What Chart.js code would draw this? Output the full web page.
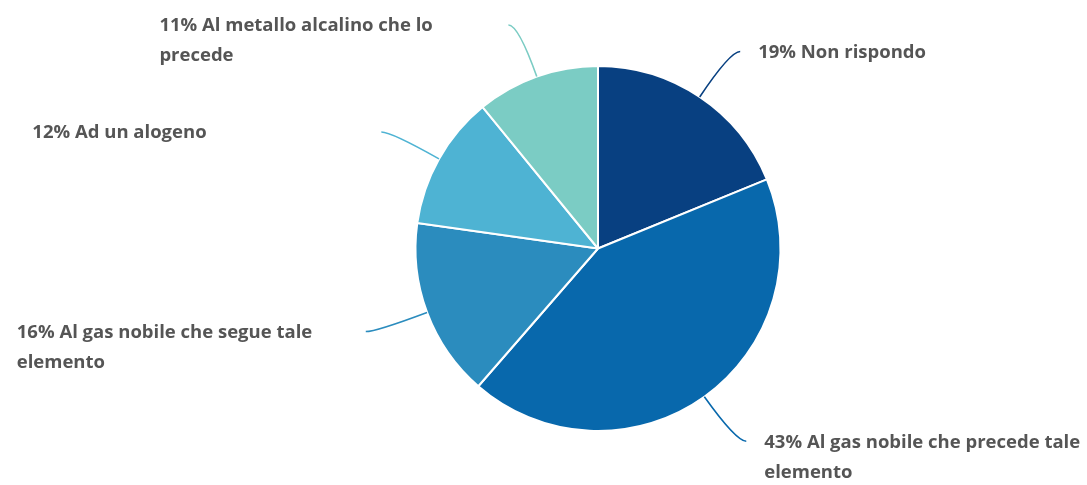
<!DOCTYPE html>
<html lang="it">
<head>
<meta charset="utf-8">
<title>Risposte</title>
<script src="https://cdn.jsdelivr.net/npm/chart.js@4"></script>
<style>
  html, body { margin: 0; padding: 0; background: #ffffff; }
  #wrap { position: relative; width: 1087px; height: 485px; }
</style>
</head>
<body>
<div id="wrap"><canvas id="chart"></canvas></div>
<script>
// Risposte (percentuali) e relative etichette
const categories = [
  "Non rispondo",
  "Al gas nobile che precede tale elemento",
  "Al gas nobile che segue tale elemento",
  "Ad un alogeno",
  "Al metallo alcalino che lo precede"
];
const percentages = [19, 43, 16, 12, 11];
const sliceColors = ["#084081", "#0868ac", "#2b8cbe", "#4eb3d3", "#7bccc4"];

const LABEL_FONT = "bold 18.5px 'Open Sans', 'Noto Sans', sans-serif";
const LABEL_COLOR = "#555555";
const LINE_HEIGHT = 30;
const BOX_WIDTH = 332;

function wrapText(ctx, text, maxWidth) {
  const words = text.split(" ");
  const lines = [];
  let cur = "";
  for (const w of words) {
    const test = cur ? cur + " " + w : w;
    if (ctx.measureText(test).width > maxWidth && cur) {
      lines.push(cur);
      cur = w;
    } else {
      cur = test;
    }
  }
  if (cur) lines.push(cur);
  return lines;
}

// Linee guida curve e etichette esterne per ogni spicchio
const leaderLabels = {
  id: "leaderLabels",
  afterDatasetsDraw(chart) {
    const ctx = chart.ctx;
    const meta = chart.getDatasetMeta(0);
    const ds = chart.data.datasets[0];
    meta.data.forEach((arc, i) => {
      const { x, y, outerRadius, startAngle, endAngle } = arc.getProps(
        ["x", "y", "outerRadius", "startAngle", "endAngle"], true);
      const mid = (startAngle + endAngle) / 2;
      const cx = Math.cos(mid), sy = Math.sin(mid);
      const right = cx >= 0;
      const dir = right ? 1 : -1;
      // inizio sul bordo dello spicchio, gomito all'esterno, poi tratto orizzontale
      const p0x = x + cx * outerRadius, p0y = y + sy * outerRadius;
      const elbowR = outerRadius * 1.3;
      const kx = x + cx * elbowR, ky = y + sy * elbowR;
      const ex = kx + dir * 10, ey = ky;

      ctx.save();
      ctx.strokeStyle = ds.backgroundColor[i];
      ctx.lineWidth = 1.6;
      ctx.beginPath();
      ctx.moveTo(p0x, p0y);
      ctx.quadraticCurveTo(kx, ky, ex, ey);
      ctx.stroke();

      ctx.font = LABEL_FONT;
      ctx.fillStyle = LABEL_COLOR;
      ctx.textBaseline = "middle";
      ctx.textAlign = "left";
      const text = ds.data[i] + "% " + chart.data.labels[i];
      let boxLeft, boxWidth;
      if (right) {
        boxLeft = ex + 18;
        boxWidth = Math.min(BOX_WIDTH, chart.width - boxLeft - 2);
      } else {
        boxLeft = ex - 17 - BOX_WIDTH;
        boxWidth = BOX_WIDTH;
      }
      const lines = wrapText(ctx, text, boxWidth);
      lines.forEach((ln, k) => {
        ctx.fillText(ln, boxLeft, ey + 1 + k * LINE_HEIGHT);
      });
      ctx.restore();
    });
  }
};

new Chart(document.getElementById("chart"), {
  type: "pie",
  data: {
    labels: categories,
    datasets: [{
      data: percentages,
      backgroundColor: sliceColors,
      borderColor: "#ffffff",
      borderWidth: 2
    }]
  },
  options: {
    responsive: true,
    maintainAspectRatio: false,
    animation: false,
    layout: { padding: { left: 414, right: 305, top: 65, bottom: 53 } },
    plugins: {
      legend: { display: false },
      tooltip: { enabled: false }
    }
  },
  plugins: [leaderLabels]
});
</script>
</body>
</html>
